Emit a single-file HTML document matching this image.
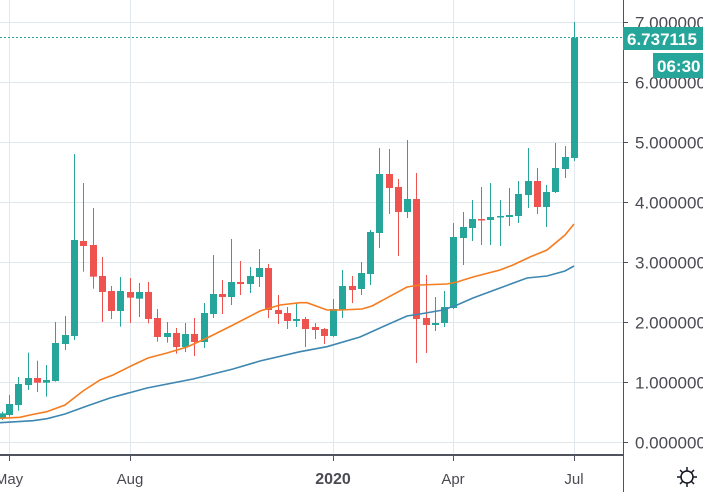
<!DOCTYPE html>
<html><head><meta charset="utf-8"><style>
body{margin:0;background:#fff;width:703px;height:492px;overflow:hidden;font-family:"Liberation Sans",sans-serif}
svg{display:block}
</style></head><body>
<svg id="s" width="703" height="492" xmlns="http://www.w3.org/2000/svg">
<g stroke="#e1e8ee" stroke-width="1">
<line x1="0" y1="22.5" x2="623" y2="22.5"/><line x1="0" y1="82.5" x2="623" y2="82.5"/>
<line x1="0" y1="142.5" x2="623" y2="142.5"/><line x1="0" y1="202.5" x2="623" y2="202.5"/>
<line x1="0" y1="262.5" x2="623" y2="262.5"/><line x1="0" y1="322.5" x2="623" y2="322.5"/>
<line x1="0" y1="382.5" x2="623" y2="382.5"/><line x1="0" y1="442.5" x2="623" y2="442.5"/>
<line x1="9.5" y1="0" x2="9.5" y2="455"/><line x1="130.5" y1="0" x2="130.5" y2="455"/>
<line x1="333.5" y1="0" x2="333.5" y2="455"/><line x1="453.5" y1="0" x2="453.5" y2="455"/>
<line x1="574.5" y1="0" x2="574.5" y2="455"/>
</g>
<g id="c"></g>
<polyline fill="none" stroke="#f57c1f" stroke-width="1.6" points="0,418.3 20,417.3 30,415 46.7,411.7 65,405 83,391 100,380 113,375 133,365 148,358 167,353 187,347 207,338 233,325 260,311 280,305 300,302.7 307,302.7 327,310 340,310 362,309 372,306 407,287 420,285 447,284 457,282 473,277 500,270 513,265 530,257 547,250 565,235 574,224"/>
<polyline fill="none" stroke="#3d87b0" stroke-width="1.6" points="0,422.7 33,420.7 47,418.7 65,414 87,406 110,398 147,388 193,379 233,369 260,361 300,351.7 327,346.7 360,337 380,328 407,316 420,314 443,310 457,305 473,298 500,288 527,278 547,276 565,271 574,266"/>
<line x1="0" y1="37.5" x2="623" y2="37.5" stroke="#26a69a" stroke-width="1" stroke-dasharray="2,2"/>
<line x1="0" y1="455" x2="623" y2="455" stroke="#50535e" stroke-width="2"/>
<line x1="623.5" y1="0" x2="623.5" y2="492" stroke="#50535e" stroke-width="1"/>
<g stroke="#50535e" stroke-width="1">
<line x1="9.5" y1="455" x2="9.5" y2="461"/><line x1="130.5" y1="455" x2="130.5" y2="461"/>
<line x1="333.5" y1="455" x2="333.5" y2="461"/><line x1="453.5" y1="455" x2="453.5" y2="461"/>
<line x1="574.5" y1="455" x2="574.5" y2="461"/>
<line x1="623" y1="22.5" x2="628" y2="22.5"/><line x1="623" y1="82.5" x2="628" y2="82.5"/>
<line x1="623" y1="142.5" x2="628" y2="142.5"/><line x1="623" y1="202.5" x2="628" y2="202.5"/>
<line x1="623" y1="262.5" x2="628" y2="262.5"/><line x1="623" y1="322.5" x2="628" y2="322.5"/>
<line x1="623" y1="382.5" x2="628" y2="382.5"/><line x1="623" y1="442.5" x2="628" y2="442.5"/>
</g>
<g font-size="17" fill="#4a4b52">
<text x="635" y="28.5">7.000000</text><text x="635" y="88.5">6.000000</text>
<text x="635" y="148.5">5.000000</text><text x="635" y="208.5">4.000000</text>
<text x="635" y="268.5">3.000000</text><text x="635" y="328.5">2.000000</text>
<text x="635" y="388.5">1.000000</text><text x="635" y="448.5">0.000000</text>
</g>
<rect x="623" y="27" width="80" height="23" fill="#26a69a"/>
<text x="627" y="45" font-size="17" font-weight="bold" fill="#fff">6.737115</text>
<rect x="653" y="53" width="50" height="25" fill="#26a69a"/>
<text x="657" y="72" font-size="17" font-weight="bold" fill="#fff">06:30</text>
<g font-size="15" fill="#4a4b52" text-anchor="middle">
<text x="9" y="484">May</text><text x="130" y="484">Aug</text>
<text x="333" y="484" font-weight="bold" font-size="16">2020</text>
<text x="453" y="484">Apr</text><text x="574" y="484">Jul</text>
</g>
<g stroke="#131722" stroke-width="1.5" fill="none">
<circle cx="687" cy="477" r="6"/>
<line x1="687" y1="467" x2="687" y2="471"/><line x1="687" y1="483" x2="687" y2="487"/>
<line x1="677" y1="477" x2="681" y2="477"/><line x1="693" y1="477" x2="697" y2="477"/>
<line x1="680" y1="470" x2="682.5" y2="472.5"/><line x1="694" y1="470" x2="691.5" y2="472.5"/>
<line x1="680" y1="484" x2="682.5" y2="481.5"/><line x1="694" y1="484" x2="691.5" y2="481.5"/>
</g>
</svg>
<script>
var A=[[5,'g',850,865,845,870],[28,'g',822,855,795,860],[55,'g',762,825,741,842],[85,'g',744,765,668,780],[112,'r',744,758,692,786],[139,'g',750,758,705,800],[166,'g',639,753,576,755],[196,'g',615,642,558,660],[223,'g',330,618,72,630],[250,'r',333,348,159,425],[280,'r',345,440,234,476],[307,'r',438,486,381,576],[334,'r',483,543,468,567],[361,'g',483,543,441,590],[391,'r',486,503,444,579],[418,'g',486,506,459,561],[445,'r',486,567,456,580],[472,'r',564,621,537,635],[502,'g',609,621,576,638],[529,'r',609,651,594,671],[556,'g',612,651,579,666],[583,'r',612,636,564,678],[613,'g',549,636,519,654],[640,'g',492,552,375,564],[667,'r',492,501,450,552],[694,'g',456,501,327,525],[721,'r',456,462,393,495],[751,'g',438,462,411,489],[778,'g',414,441,357,471],[805,'r',414,540,402,564],[835,'r',540,552,495,582],[862,'r',549,573,531,597],[889,'g',567,573,519,591]];
var B=[[15,'r',567,597,561,651],[45,'r',591,600,579,627],[72,'r',597,618,594,642],[100,'g',537,618,507,621],[127,'g',468,540,420,564],[157,'r',468,480,438,519],[184,'g',429,477,396,495],[211,'g',306,432,300,465],[238,'g',132,309,54,354],[268,'r',132,174,57,252],[295,'r',171,246,147,378],[322,'g',207,246,30,264],[349,'r',207,567,129,699],[379,'r',564,585,435,669],[406,'g',579,585,501,603],[433,'g',531,579,483,591],[460,'g',321,534,279,537],[490,'g',291,324,246,405],[517,'g',267,294,210,333],[544,'r',267,270,171,345],[571,'g',261,270,159,345],[601,'g',258,261,210,348],[628,'g',255,261,174,288],[655,'g',192,258,153,279],[685,'g',153,195,54,234],[712,'r',153,231,114,252],[739,'g',186,231,165,291],[766,'g',114,186,39,189],[796,'g',81,117,48,144],[823,'g',-277,84,-324,93]];
var h='';
function add(ox,a){a.forEach(function(c){var x=Math.round(ox+c[0]/3),col=c[1]=='g'?'#26a69a':'#ef5350';
var bt=130+c[2]/3,bb=130+c[3]/3,wt=130+c[4]/3,wb=130+c[5]/3;if(bb-bt<1.5)bb=bt+1.5;
h+='<rect x="'+x+'" y="'+wt+'" width="1" height="'+(wb-wt)+'" fill="'+col+'"/>';
h+='<rect x="'+(x-3)+'" y="'+bt+'" width="7" height="'+(bb-bt)+'" fill="'+col+'"/>';});}
add(0,A);add(300,B);
document.getElementById('c').innerHTML=h;
</script>
</body></html>
